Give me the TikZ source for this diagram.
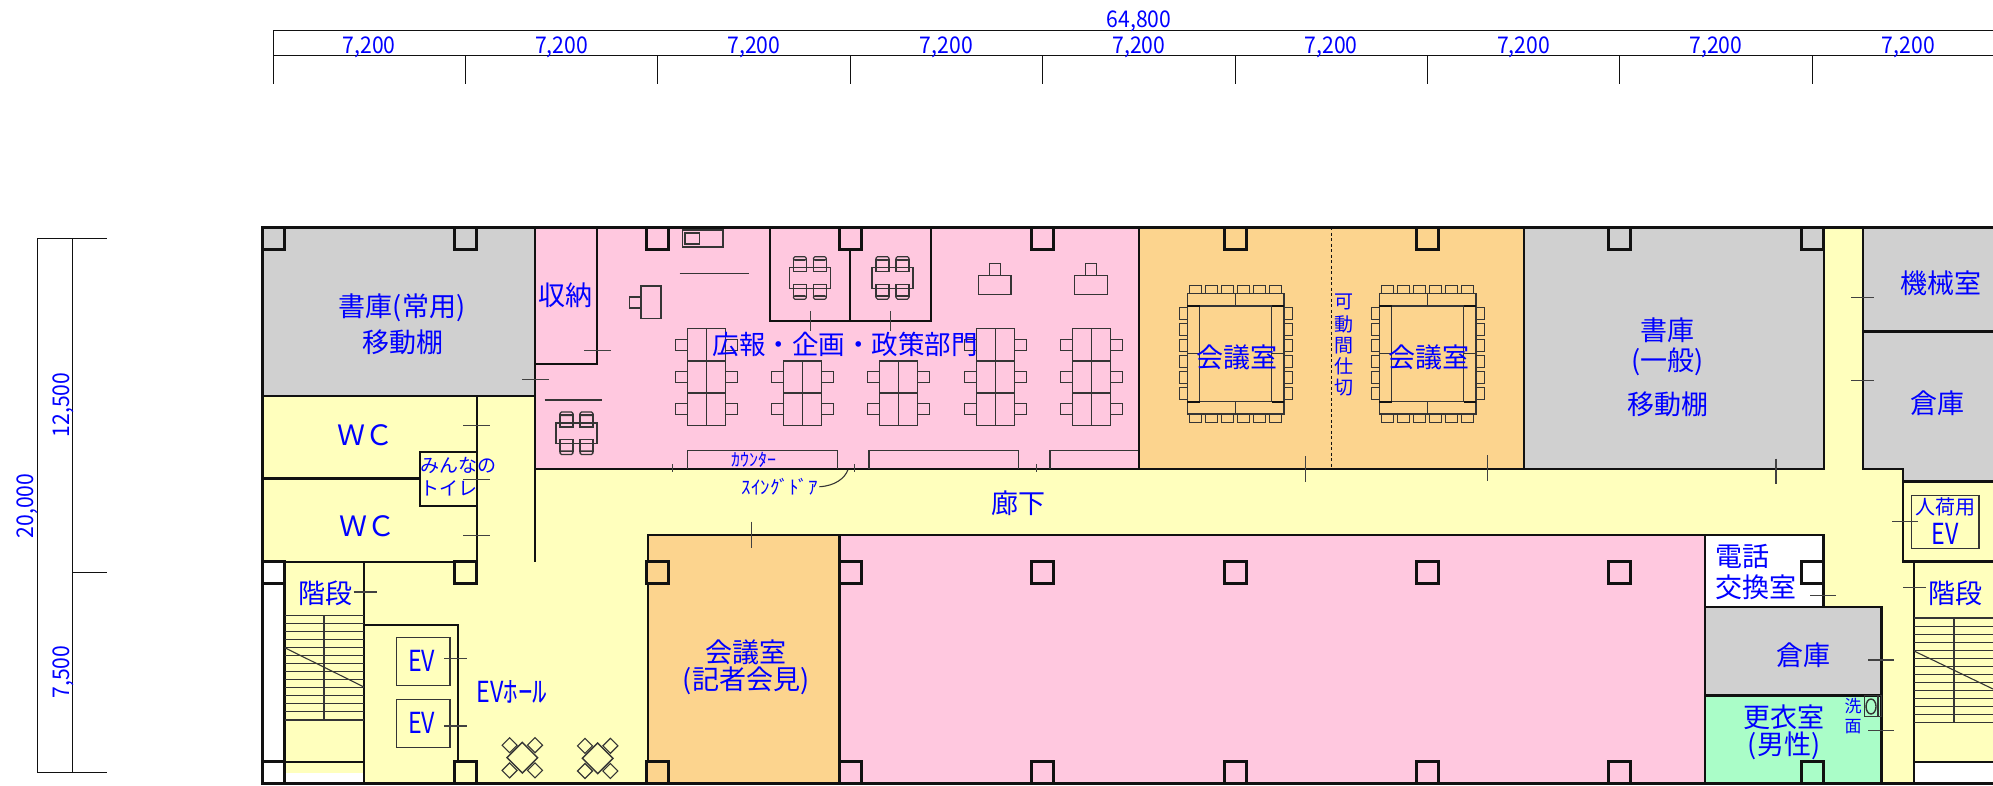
\documentclass[tikz,border=0pt]{standalone}
\usepackage{fontspec}
\newfontfamily\jpf{Noto Sans CJK JP}
\definecolor{ypl}{HTML}{FFFFBD}
\definecolor{pnk}{HTML}{FFC8DF}
\definecolor{gry}{HTML}{D0D0D0}
\definecolor{org}{HTML}{FCD48E}
\definecolor{grn}{HTML}{AAFDC8}
\definecolor{blu}{HTML}{0000FF}
\definecolor{ink}{HTML}{111111}
\newcommand{\fs}[1]{\fontsize{#1}{#1}\selectfont}
\newcommand{\nar}[1]{\scalebox{.8}[1]{#1}}
\newcommand{\dimt}[1]{\scalebox{.92}[1]{#1}}
\tikzset{
  wallline/.style={draw=ink,line width=2.6pt},
  outerwall/.style={draw=ink,line width=3.2pt},
  midline/.style={draw=ink,line width=1.3pt},
  thinline/.style={draw=ink!85,line width=1.1pt},
  markline/.style={draw=ink!80,line width=1.1pt},
  dimline/.style={draw=ink,line width=1pt},
  colbox/.style={draw=ink,line width=3pt},
  lbl/.style={text=blu,inner sep=0pt,font=\jpf\fs{27}},
  lblm/.style={lbl,font=\jpf\fs{19}},
  lbls/.style={lbl,font=\jpf\fs{17}},
  lbld/.style={lbl,font=\jpf\fs{23}},
}
\newcommand{\pillar}[3]{\draw[colbox,fill=#3] (#1-11,#2-11) rectangle (#1+11,#2+11);}
\newcommand{\offchair}[3]{% x-left, y-top (of 15 tall), flip: 1 = back at top, 0 = back at bottom
  \ifnum#3=1
    \draw[thinline] (#1,#2+3) rectangle (#1+13,#2+15);
    \draw[thinline,rounded corners=1.5pt] (#1,#2+3.5) rectangle (#1+13,#2);
  \else
    \draw[thinline] (#1,#2) rectangle (#1+13,#2+12);
    \draw[thinline,rounded corners=1.5pt] (#1,#2+11.5) rectangle (#1+13,#2+15);
  \fi}
\newcommand{\meetset}[2]{% table left x, top y
  \draw[thinline] (#1,#2) rectangle (#1+41,#2+20.5);
  \offchair{#1+4}{#2-11}{1}\offchair{#1+24}{#2-11}{1}
  \offchair{#1+4}{#2+16.5}{0}\offchair{#1+24}{#2+16.5}{0}}
\newcommand{\cluster}[3]{% x, first row index (0/1), draw
  \draw[thinline] (#1,#2) rectangle (#1+38,425.3);
  \draw[thinline] (#1+19,#2) -- (#1+19,425.3);
  \draw[thinline] (#1,393) -- (#1+38,393);
  \foreach \cy in {371.7,403.7}{
    \draw[thinline] (#1-12,\cy) rectangle (#1,\cy+11);
    \draw[thinline] (#1+38,\cy) rectangle (#1+50,\cy+11);}
  #3}
\newcommand{\confset}[1]{% x offset of left edge
  \foreach \k in {0,...,5}{
    \draw[thinline] (#1+2+\k*16,285.3) rectangle (#1+14.3+\k*16,293.3);
    \draw[thinline] (#1+2+\k*16,414) rectangle (#1+14.3+\k*16,422.3);
    \draw[thinline] (#1-8,307.3+\k*16) rectangle (#1,319.6+\k*16);
    \draw[thinline] (#1+96.7,307.3+\k*16) rectangle (#1+105,319.6+\k*16);}
  \draw[thinline] (#1,293.3) rectangle (#1+96.7,306);
  \draw[thinline] (#1,401.7) rectangle (#1+96.7,414);
  \draw[thinline] (#1+48.4,293.3) -- (#1+48.4,306);
  \draw[thinline] (#1+48.4,401.7) -- (#1+48.4,414);
  \draw[thinline] (#1,306) rectangle (#1+12.4,401.7);
  \draw[thinline] (#1+84.3,306) rectangle (#1+96.7,401.7);
  \draw[midline,line width=1.6pt] (#1,306) -- (#1+12.4,306);
  \draw[midline,line width=1.6pt] (#1+84.3,306) -- (#1+96.7,306);
  \draw[midline,line width=1.6pt] (#1,401.7) -- (#1+12.4,401.7);
  \draw[midline,line width=1.6pt] (#1+84.3,401.7) -- (#1+96.7,401.7);
  \draw[thinline] (#1,353.7) -- (#1+12.4,353.7);
  \draw[thinline] (#1+84.3,353.7) -- (#1+96.7,353.7);}
\newcommand{\cafetable}[2]{%
  \draw[thinline,line width=1.4pt] (#1-15.3,#2) -- (#1,#2-15.3) -- (#1+15.3,#2) -- (#1,#2+15.3) -- cycle;
  \foreach \sx/\sy in {-12.7/-12.5,12.7/-12.5,-12.7/12.7,12.7/12.7}{
    \draw[thinline] (#1+\sx-7.5,#2+\sy) -- (#1+\sx,#2+\sy-7.5) -- (#1+\sx+7.5,#2+\sy) -- (#1+\sx,#2+\sy+7.5) -- cycle;}}
\newcommand{\treads}[3]{% x0 x1 y0
  \foreach \k in {0,...,13}{\draw[thinline] (#1,#3+\k*8.05) -- (#2,#3+\k*8.05);}}
\begin{document}
\begin{tikzpicture}[x=1pt,y=-1pt]
\useasboundingbox (0,0) rectangle (1993,785);
% ---- dimension lines
\draw[dimline] (273,30) -- (1993,30);
\draw[dimline] (273,55) -- (1993,55);
\draw[dimline] (273,30) -- (273,84);
\foreach \k in {1,...,8}{\draw[dimline] (273+\k*192.4,55) -- (273+\k*192.4,84);}
\node[lbld] (dimall) at (1139,21) {\dimt{64,800}};
\node[lbld] (dim1) at (369.2,47) {\dimt{7,200}};
\node[lbld] (dim2) at (561.6,47) {\dimt{7,200}};
\node[lbld] (dim3) at (754,47) {\dimt{7,200}};
\node[lbld] (dim4) at (946.4,47) {\dimt{7,200}};
\node[lbld] (dim5) at (1138.8,47) {\dimt{7,200}};
\node[lbld] (dim6) at (1331.2,47) {\dimt{7,200}};
\node[lbld] (dim7) at (1523.6,47) {\dimt{7,200}};
\node[lbld] (dim8) at (1716,47) {\dimt{7,200}};
\node[lbld] (dim9) at (1908.4,47) {\dimt{7,200}};
\draw[dimline] (37,238.4) -- (106.5,238.4);
\draw[dimline] (37,772.8) -- (106.5,772.8);
\draw[dimline] (72.4,572.4) -- (106.5,572.4);
\draw[dimline] (37,238.4) -- (37,772.8);
\draw[dimline] (72.4,238.4) -- (72.4,772.8);
\node[lbld,rotate=90] (dimv) at (27,506) {\dimt{20,000}};
\node[lbld,rotate=90] (dimv1) at (63,405) {\dimt{12,500}};
\node[lbld,rotate=90] (dimv2) at (63,672) {\dimt{7,500}};
% ---- room fills
\fill[ypl] (262,227) rectangle (1993,783);
\fill[white] (262,562) rectangle (284.7,783);
\fill[white] (286,773.3) rectangle (364,783);
\fill[white] (1914,762) rectangle (1993,783);
\fill[gry] (262,227) rectangle (535.4,396);
\fill[pnk] (535.4,227) rectangle (1139,469);
\fill[org] (1139,227) rectangle (1524,469);
\fill[gry] (1524,227) rectangle (1823.3,469);
\fill[gry] (1863,227) rectangle (1993,469);
\fill[gry] (1903,469) rectangle (1993,481.7);
\fill[org] (647.8,535) rectangle (839.6,783);
\fill[pnk] (839.6,535) rectangle (1705,783);
\fill[white] (1705,535) rectangle (1823.3,607);
\fill[gry] (1705,607) rectangle (1881.7,695.5);
\fill[grn] (1705,695.5) rectangle (1881.7,783);
% ---- inner walls
\draw[wallline] (262,396) -- (535.4,396);
\draw[wallline] (262,562) -- (477,562) -- (477,396);
\draw[wallline] (262,478.7) -- (420,478.7);
\draw[wallline,line width=2pt] (420,452) rectangle (477,506);
\draw[midline,line width=2pt] (535.4,227) -- (535.4,562);
\draw[midline] (535.4,469) -- (1139,469);
\draw[wallline] (1139,227) -- (1139,469) -- (1824,469) -- (1824,227);
\draw[wallline] (1524,227) -- (1524,469);
\draw[draw=ink,line width=1.1pt,dash pattern=on 3pt off 2.5pt] (1331.3,227) -- (1331.3,469);
\draw[wallline] (1863,227) -- (1863,469) -- (1903,469) -- (1903,561.3) -- (1993,561.3);
\draw[wallline] (1863,331.7) -- (1993,331.7);
\draw[wallline] (1903,481.7) -- (1993,481.7);
\draw[thinline] (1911.3,495.3) rectangle (1979,548.5);
\draw[wallline] (1914,561.3) -- (1914,783);
\draw[wallline] (1914,762) -- (1993,762);
\draw[wallline] (647.8,783) -- (647.8,535) -- (1823.3,535) -- (1823.3,607);
\draw[wallline] (839.6,535) -- (839.6,783);
\draw[wallline] (1705,535) -- (1705,783);
\draw[wallline] (1705,607) -- (1881.7,607) -- (1881.7,783);
\draw[wallline] (1705,695.5) -- (1881.7,695.5);
% left stairs / EV
\draw[wallline] (284.7,562) -- (284.7,783);
\draw[wallline] (364,562) -- (364,783);
\draw[midline] (284.7,762) -- (364,762);
\treads{284.7}{364}{615.3}
\draw[thinline] (324,615.3) -- (324,720);
\draw[thinline] (284.7,647.7) -- (364,687);
\draw[wallline] (364,625) -- (458,625) -- (458,762);
\draw[thinline] (396.3,637.7) rectangle (450,685.7);
\draw[thinline] (396.3,699.3) rectangle (450,747.3);
\cafetable{522.3}{757.7}
\cafetable{597.7}{758.3}
% right stairs
\treads{1914}{1993}{618}
\draw[thinline] (1954,618) -- (1954,722.6);
\draw[thinline] (1914,651) -- (1993,689);
% ---- pink room furniture
\draw[midline] (535.4,364) -- (597,364) -- (597,227);
\draw[thinline] (544.6,400) -- (602,400);
\meetset{556}{423}
\draw[thinline] (682.4,230) rectangle (723,247);
\draw[thinline] (685,233) rectangle (699.6,244);
\draw[thinline] (679.6,273.3) -- (749.4,273.3);
\draw[thinline] (641,286) rectangle (661,318.7);
\draw[thinline] (629.4,297) rectangle (641,308);
\draw[midline] (770,227) -- (770,321) -- (931,321) -- (931,227);
\draw[midline] (850,227) -- (850,321);
\meetset{789.4}{267.7}
\meetset{872}{267.7}
\draw[thinline] (978.4,275.7) rectangle (1011,294.7);
\draw[thinline] (989.4,263.3) rectangle (1000.4,275.7);
\draw[thinline] (1074.3,275.7) rectangle (1107.3,294.7);
\draw[thinline] (1085.3,263.3) rectangle (1096.7,275.7);
\foreach \cx in {687.3,976.3,1072.2}{
  \cluster{\cx}{328.7}{
    \draw[thinline] (\cx,361) -- (\cx+38,361);
    \draw[thinline] (\cx-12,339.3) rectangle (\cx,350.7);
    \draw[thinline] (\cx+38,339.3) rectangle (\cx+50,350.7);}}
\foreach \cx in {783.7,879.6}{\cluster{\cx}{361}{}}
\draw[thinline] (687.3,469) -- (687.3,450.7) -- (837.6,450.7) -- (837.6,469);
\draw[thinline] (869,469) -- (869,450.7) -- (1018.8,450.7) -- (1018.8,469);
\draw[thinline] (1050,469) -- (1050,450.7) -- (1138,450.7);
% conference tables
\confset{1187.3}
\confset{1379.3}
% sink
\draw[thinline] (1864.3,695.5) rectangle (1881.7,716.4);
\draw[thinline] (1878,695.5) -- (1878,716.4);
\draw[thinline,line width=1.4pt] (1871,706.5) ellipse [x radius=5,y radius=7.5];
% ---- columns
\foreach \cx/\cc in {273/gry,465.4/gry,657.8/pnk,850.2/pnk,1042.6/pnk,1235/org,1427.4/org,1619.8/gry,1812.2/gry}{\pillar{\cx}{238.5}{\cc}}
\foreach \cx/\cc in {273/white,465.4/ypl,657.8/org,850.2/pnk,1042.6/pnk,1235/pnk,1427.4/pnk,1619.8/pnk,1812.2/white}{\pillar{\cx}{572.5}{\cc}}
\foreach \cx/\cc in {273/white,465.4/ypl,657.8/org,850.2/pnk,1042.6/pnk,1235/pnk,1427.4/pnk,1619.8/pnk,1812.2/grn}{\pillar{\cx}{772.5}{\cc}}
% ---- outer walls
\draw[outerwall] (1993,227.5) -- (262.5,227.5) -- (262.5,783.5) -- (1993,783.5);
% ---- door marks
\draw[markline] (1851,297.3) -- (1873.7,297.3);
\draw[markline] (1851,380.5) -- (1873.7,380.5);
\draw[markline] (1776,458.6) -- (1776,484);
\draw[markline] (1892,521.7) -- (1918,521.7);
\draw[markline] (1903,587.7) -- (1925.7,587.7);
\draw[markline] (1810,595.4) -- (1836,595.4);
\draw[markline] (1868,660) -- (1894,660);
\draw[markline] (1868,730.7) -- (1894,730.7);
\draw[markline] (584,350.4) -- (611,350.4);
\draw[markline] (522,379.5) -- (549,379.5);
\draw[markline] (463.4,425.4) -- (489.5,425.4);
\draw[markline] (463.4,479.5) -- (489.5,479.5);
\draw[markline] (463.4,535.4) -- (489.5,535.4);
\draw[markline] (353.5,592) -- (377,592);
\draw[markline] (444,658.7) -- (467,658.7);
\draw[markline] (444,726) -- (467,726);
\draw[markline] (810.6,311) -- (810.6,330.7);
\draw[markline] (890.2,311) -- (890.2,330.7);
\draw[markline] (672.2,464) -- (672.2,472.3);
\draw[markline] (854.3,464) -- (854.3,472.3);
\draw[markline] (1036.3,464) -- (1036.3,472.3);
\draw[markline] (751.8,521.7) -- (751.8,547.7);
\draw[markline] (1305.3,456) -- (1305.3,482);
\draw[markline] (1487.3,455) -- (1487.3,480.7);
% ---- swing door label
\node[lbl,font=\jpf\fs{19}] (swing) at (779.7,486.7) {ｽｲﾝｸﾞﾄﾞｱ};
\coordinate (swingend) at (847.8,470);
\draw[thinline] (swing.east) ++(1.5,0) .. controls (835,486) and (845,478) .. (swingend);
% ---- room labels
\node[lbl] (r1a) at (402,307.5) {書庫(常用)};
\node[lbl] (r1b) at (403,341.8) {移動棚};
\node[lbl,font=\jpf\fs{28}] (r2) at (365.3,435) {ＷＣ};
\node[lbl,font=\jpf\fs{28}] (r3) at (367,525.7) {ＷＣ};
\node[lblm] (r4a) at (458.8,465) {みんなの};
\node[lblm] (r4b) at (449,488.4) {トイレ};
\node[lbl] (r5) at (325,593) {階段};
\node[lbl,font=\jpf\fs{29}] (r6) at (421.7,660.8) {\nar{EV}};
\node[lbl,font=\jpf\fs{29}] (r7) at (421.7,723) {\nar{EV}};
\node[lbl,font=\jpf\fs{29}] (r8) at (512,691.8) {\nar{EV}ﾎｰﾙ};
\node[lbl] (r9) at (565.7,295.3) {収納};
\node[lbl,font=\jpf\fs{26.5}] (r10) at (845,344) {広報・企画・政策部門};
\node[lbl,font=\jpf\fs{18}] (r11) at (754,460) {ｶｳﾝﾀｰ};
\node[lbl] (r12) at (1018.8,503.3) {廊下};
\node[lbl] (r13) at (1236.7,357.7) {会議室};
\node[lbl] (r14) at (1429.3,357.7) {会議室};
\node[lblm] (r15a) at (1343.7,302.3) {可};
\node[lblm] (r15b) at (1343.7,324.3) {動};
\node[lblm] (r15c) at (1343.7,346) {間};
\node[lblm] (r15d) at (1343.7,366.7) {仕};
\node[lblm] (r15e) at (1343.7,387.3) {切};
\node[lbl] (r16a) at (1667.6,330) {書庫};
\node[lbl] (r16b) at (1667.6,362) {(一般)};
\node[lbl] (r16c) at (1667.6,404) {移動棚};
\node[lbl] (r17) at (1940.7,283.3) {機械室};
\node[lbl] (r18) at (1937,403) {倉庫};
\node[lbl,font=\jpf\fs{20}] (r19a) at (1945.7,507) {人荷用};
\node[lbl,font=\jpf\fs{29}] (r19b) at (1945,533.8) {\nar{EV}};
\node[lbl] (r20) at (1955,593) {階段};
\node[lbl] (r21a) at (1742,556.5) {電話};
\node[lbl] (r21b) at (1756,587.7) {交換室};
\node[lbl] (r22) at (1803.7,655.5) {倉庫};
\node[lbl] (r23a) at (1783.7,716.8) {更衣室};
\node[lbl] (r23b) at (1784,746) {(男性)};
\node[lbls] (r24a) at (1853,706) {洗};
\node[lbls] (r24b) at (1853,727) {面};
\node[lbl] (r25a) at (746,652) {会議室};
\node[lbl] (r25b) at (746,681) {(記者会見)};
\end{tikzpicture}
\end{document}
